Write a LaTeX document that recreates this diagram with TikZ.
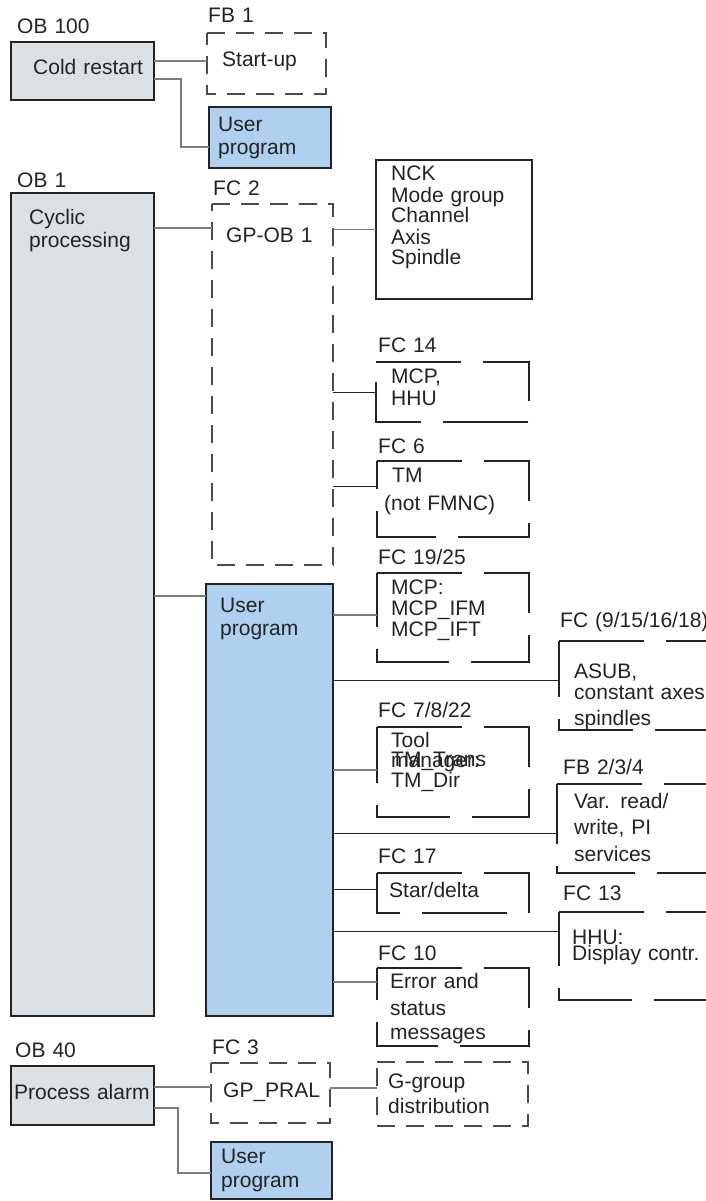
\documentclass[tikz,border=0pt]{standalone}
\usepackage{fontspec}
\setmainfont{Liberation Sans}
\usetikzlibrary{positioning, calc}
\definecolor{cOB}{RGB}{219,224,228}
\definecolor{cUser}{RGB}{175,208,238}
\definecolor{cEdge}{RGB}{35,35,35}
\definecolor{cDash}{RGB}{75,75,75}
\definecolor{cLink}{RGB}{125,125,125}

\begin{document}
\begin{tikzpicture}[x=1pt, y=-1pt,
  font=\fontsize{21}{21}\selectfont, text=cEdge,
  blk/.style={inner sep=0pt, outer sep=0pt, anchor=north west},
  sz/.style 2 args={minimum width=#1pt, minimum height=#2pt},
  ob/.style={blk, draw=cEdge, line width=2.6pt, fill=cOB},
  usr/.style={blk, draw=cEdge, line width=2.6pt, fill=cUser},
  nckbox/.style={blk, draw=cEdge, line width=2.6pt, fill=white},
  fcline/.style={draw=cEdge, line width=2.6pt, dash pattern=on 85pt off 22pt},
  fbline/.style={draw=cDash, line width=1.3pt, dash pattern=on 18pt off 11pt},
  txt/.style={inner sep=0pt, anchor=base west, text width=200pt, align=left},
  link/.style={draw=cLink, line width=1.2pt},
  linkd/.style={draw=cEdge, line width=1pt}]
  \useasboundingbox (0,0) rectangle (706,1201);
  \clip (0,0) rectangle (706,1201);

  % organisation blocks
  \node[ob, sz={143}{58}] (cold) at (11,42) {};
  \node[ob, sz={143}{823}] (cyclic) at (11,193) {};
  \node[ob, sz={143}{59}] (process) at (11,1066) {};
  \node[usr, sz={122}{61}] (user1) at (209,107) {};
  \node[usr, sz={127}{432}] (user2) at (206,584) {};
  \node[usr, sz={121}{57}] (user3) at (211,1142) {};
  \node[nckbox, sz={156}{139}] (nck) at (376,160) {};

  % dashed blocks (frames drawn below)
  \node[blk, sz={119}{61}] (startup) at (207,33) {};
  \node[blk, sz={121}{361}] (gpob) at (212,204) {};
  \node[blk, sz={119}{60}] (fc3) at (211,1063) {};
  \node[blk, sz={151}{64}] (ggroup) at (377,1062) {};
  \node[blk, sz={153}{60}] (fc14) at (376,362) {};
  \node[blk, sz={152}{76}] (fc6) at (377,461) {};
  \node[blk, sz={152}{89}] (fc19) at (377,573) {};
  \node[blk, sz={152}{90}] (fc7) at (377,727) {};
  \node[blk, sz={152}{40}] (fc17) at (377,873) {};
  \node[blk, sz={152}{78}] (fc10) at (377,968) {};
  \node[blk, sz={153}{89}] (fc9) at (559,641) {};
  \node[blk, sz={155}{89}] (fb2) at (557,784) {};
  \node[blk, sz={153}{88}] (fc13) at (559,912) {};

  \foreach \b in {startup,gpob,fc3,ggroup}
    \draw[fbline] (\b.north west) -- (\b.north east) -- (\b.south east) -- (\b.south west) -- cycle;
  \foreach \b in {fc14,fc6,fc19,fc7,fc17,fc10,fc9,fb2,fc13}
    \draw[fcline] (\b.north west) -- (\b.north east) -- (\b.south east) -- (\b.south west) -- cycle;

  % block names
  \node[txt] (l-ob100) at ([shift={(6,-8)}]cold.north west) {OB 100};
  \node[txt] (l-fb1) at ([shift={(1,-10)}]startup.north west) {FB 1};
  \node[txt] (l-ob1) at ([shift={(6,-6)}]cyclic.north west) {OB 1};
  \node[txt] (l-fc2) at ([shift={(1,-8)}]gpob.north west) {FC 2};
  \node[txt] (l-fc14) at ([shift={(2,-10)}]fc14.north west) {FC 14};
  \node[txt] (l-fc6) at ([shift={(1,-8)}]fc6.north west) {FC 6};
  \node[txt] (l-fc19) at ([shift={(1,-9)}]fc19.north west) {FC 19/25};
  \node[txt] (l-fc9) at ([shift={(1,-14)}]fc9.north west) {FC (9/15/16/18)};
  \node[txt] (l-fc7) at ([shift={(1,-10)}]fc7.north west) {FC 7/8/22};
  \node[txt] (l-fb2) at ([shift={(6,-10)}]fb2.north west) {FB 2/3/4};
  \node[txt] (l-fc17) at ([shift={(1,-10)}]fc17.north west) {FC 17};
  \node[txt] (l-fc13) at ([shift={(4,-12)}]fc13.north west) {FC 13};
  \node[txt] (l-fc10) at ([shift={(1,-8)}]fc10.north west) {FC 10};
  \node[txt] (l-ob40) at ([shift={(4,-9)}]process.north west) {OB 40};
  \node[txt] (l-fc3) at ([shift={(1,-9)}]fc3.north west) {FC 3};

  % block contents
  \node[txt] (t-cold) at ([shift={(22,33)}]cold.north west) {Cold restart};
  \node[txt] (t-startup) at ([shift={(15,34)}]startup.north west) {Start-up};
  \node[txt] (t-user1) at ([shift={(9,25)}]user1.north west) {User\\[2pt]program};
  \node[txt] (t-cyclic) at ([shift={(18,31)}]cyclic.north west) {Cyclic\\[2pt]processing};
  \node[txt] (t-gpob) at ([shift={(14,38)}]gpob.north west) {GP-OB 1};
  \node[txt] (t-nck) at ([shift={(15,21)}]nck.north west) {NCK\\Mode group\\Channel\\Axis\\Spindle};
  \node[txt] (t-fc14) at ([shift={(15,21)}]fc14.north west) {MCP,\\[1pt]HHU};
  \node[txt] (t-fc6) at ([shift={(7,21)}]fc6.north west) {\kern8pt TM\\[7pt](not FMNC)};
  \node[txt] (t-fc19) at ([shift={(14,21)}]fc19.north west) {MCP:\\MCP\_IFM\\MCP\_IFT};
  \node[txt] (t-user2) at ([shift={(14,28)}]user2.north west) {User\\[2pt]program};
  \node[txt] (t-fc9) at ([shift={(15,37)}]fc9.north west) {ASUB,\\constant axes,\\[5pt]spindles};
  \node[txt] (t-fc7a) at ([shift={(14,20)}]fc7.north west) {Tool\\[-1pt]manager:};
  \node[txt] (t-fc7b) at ([shift={(14,39)}]fc7.north west) {TM\_Trans\\TM\_Dir};
  \node[txt] (t-fb2) at ([shift={(17,24)}]fb2.north west) {Var. read/\\[5pt]write, PI\\[6pt]services};
  \node[txt] (t-fc17) at ([shift={(12,24)}]fc17.north west) {Star/delta};
  \node[txt] (t-fc13) at ([shift={(13,32)}]fc13.north west) {HHU:\\[-5pt]Display contr.};
  \node[txt] (t-fc10) at ([shift={(13,20)}]fc10.north west) {Error and\\[6pt]status\\[3pt]messages};
  \node[txt] (t-process) at ([shift={(3,33)}]process.north west) {Process alarm};
  \node[txt] (t-fc3) at ([shift={(12,34)}]fc3.north west) {GP\_PRAL};
  \node[txt] (t-ggroup) at ([shift={(11,26)}]ggroup.north west) {G-group\\[4pt]distribution};
  \node[txt] (t-user3) at ([shift={(10,21)}]user3.north west) {User\\[3pt]program};

  % calls
  \draw[link] ([yshift=2.5pt]startup.west -| cold.east) -- ([yshift=2.5pt]startup.west);
  \draw[link] ([yshift=-8pt]cold.east) -- ++(27,0) |- ([yshift=-9.5pt]user1.west);
  \draw[link] ([yshift=-24pt]gpob.north west -| cyclic.east) -- ([yshift=-24pt]gpob.north west);
  \draw[link] (gpob.east |- nck.west) -- (nck.west);
  \draw[linkd] (gpob.east |- fc14.west) -- (fc14.west);
  \draw[linkd] ([yshift=13pt]fc6.west -| gpob.east) -- ([yshift=13pt]fc6.west);
  \draw[link] ([yshift=-12pt]user2.north west -| cyclic.east) -- ([yshift=-12pt]user2.north west);
  \foreach \t/\d/\s in {fc19/2.5/link, fc9/5.5/linkd, fc7/2/link, fb2/-4.5/linkd,
                        fc17/4/linkd, fc13/25/linkd, fc10/25/link}
    \draw[\s] ([yshift=\d pt]\t.west -| user2.east) -- ([yshift=\d pt]\t.west);
  \draw[link] ([yshift=6pt]fc3.west -| process.east) -- ([yshift=6pt]fc3.west);
  \draw[link] ([yshift=-12.5pt]process.east) -- ++(24,0) |- ([yshift=-2.5pt]user3.west);
  \draw[link] ([yshift=6pt]ggroup.west -| fc3.east) -- ([yshift=6pt]ggroup.west);
\end{tikzpicture}
\end{document}
